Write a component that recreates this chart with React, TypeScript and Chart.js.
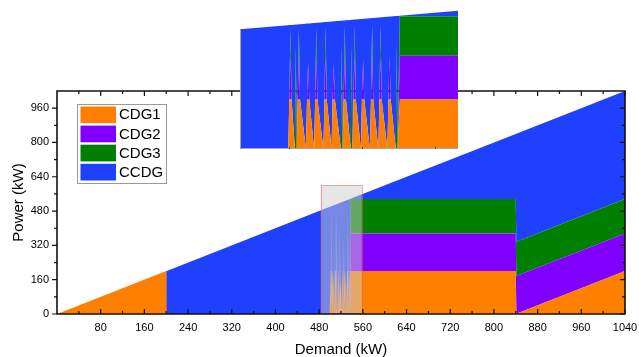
import React, { useEffect, useRef } from 'react';
import { Chart, registerables } from 'chart.js';

Chart.register(...registerables);

// ---- data (kW) ----
const demand = [
  0, 200, 201,
  499.6, 499.95, 500.35, 500.75,
  501.9, 502.2, 502.5, 502.85, 503.25, 503.65,
  505.7, 506.05, 506.45, 506.85,
  508.5, 508.85, 509.25, 509.65,
  511.7, 512.05, 512.45, 512.85,
  514.5, 514.85, 515.25, 515.65,
  517.7, 518.0, 518.3, 518.65, 519.05, 519.45,
  521.1, 521.4, 521.7, 522.05, 522.45, 522.85,
  524.6, 524.95, 525.35, 525.75,
  527.7, 528.05, 528.45, 528.85,
  530.6, 530.95, 531.35, 531.75,
  533.7, 534.05, 534.45, 534.85,
  536.6, 536.9, 537.2, 538.0, 840, 841, 1040,
];
const cdg1 = [
  0, 200, 0,
  0, 200, 200, 200,
  0, 0, 0, 200, 200, 200,
  0, 200, 200, 200,
  0, 200, 200, 200,
  0, 200, 200, 200,
  0, 200, 200, 200,
  0, 0, 0, 200, 200, 200,
  0, 0, 0, 200, 200, 200,
  0, 200, 200, 200,
  0, 200, 200, 200,
  0, 200, 200, 200,
  0, 200, 200, 200,
  0, 0, 0, 200, 200, 1, 200,
];
const cdg2 = [
  0, 0, 0,
  0, 0, 176, 0,
  0, 0, 0, 0, 176, 0,
  0, 0, 150, 0,
  0, 0, 176, 0,
  0, 0, 176, 0,
  0, 0, 140, 0,
  0, 0, 0, 0, 176, 0,
  0, 0, 0, 0, 176, 0,
  0, 0, 160, 0,
  0, 0, 176, 0,
  0, 0, 176, 0,
  0, 0, 176, 0,
  0, 0, 0, 176, 176, 176, 176,
];
const cdg3 = [
  0, 0, 0,
  0, 0, 110, 0,
  0, 420, 0, 0, 112, 0,
  0, 0, 0, 0,
  0, 0, 115, 0,
  0, 0, 118, 0,
  0, 0, 0, 0,
  0, 420, 0, 0, 120, 0,
  0, 420, 0, 0, 122, 0,
  0, 0, 0, 0,
  0, 0, 125, 0,
  0, 0, 126, 0,
  0, 0, 0, 0,
  0, 420, 0, 160, 160, 160, 160,
];
const ccdg = [
  0, 0, 201,
  499.6, 299.95, 14.35, 300.75,
  501.9, 82.2, 502.5, 302.85, 15.25, 303.65,
  505.7, 306.05, 156.45, 306.85,
  508.5, 308.85, 18.25, 309.65,
  511.7, 312.05, 18.45, 312.85,
  514.5, 314.85, 175.25, 315.65,
  517.7, 98.0, 518.3, 318.65, 23.05, 319.45,
  521.1, 101.4, 521.7, 322.05, 24.45, 322.85,
  524.6, 324.95, 165.35, 325.75,
  527.7, 328.05, 27.45, 328.85,
  530.6, 330.95, 29.35, 331.75,
  533.7, 334.05, 158.45, 334.85,
  536.6, 116.9, 537.2, 2.0, 304, 504, 504,
];

const seriesNames = ['CDG1', 'CDG2', 'CDG3', 'CCDG'];
const seriesValues = [cdg1, cdg2, cdg3, ccdg];
const seriesColors = ['#FF8000', '#8000FF', '#008000', '#1F40FF'];

const xTicks = [80, 160, 240, 320, 400, 480, 560, 640, 720, 800, 880, 960, 1040];
const xMinorTicks = [40, 120, 200, 280, 360, 440, 520, 600, 680, 760, 840, 920, 1000];
const yTicks = [0, 160, 320, 480, 640, 800, 960];
const yMinorTicks = [80, 240, 400, 560, 720, 880];

const xTitle = 'Demand (kW)';
const yTitle = 'Power (kW)';

// zoom window (shaded in main plot, enlarged in the inset)
const zoomX = [483, 558];
const zoomY = [0, 600];
const insetYMax = 565;
const insetTicks = [500, 525, 550];

const FONT = 'Arial, "Liberation Sans", sans-serif';

function makeDatasets() {
  return seriesNames.map((name, i) => ({
    label: name,
    data: demand.map((d, j) => ({ x: d, y: seriesValues[i][j] })),
    backgroundColor: seriesColors[i],
    borderColor: seriesColors[i],
    borderWidth: 0,
    pointRadius: 0,
    fill: i === 0 ? 'origin' : '-1',
    tension: 0,
  }));
}

const mainDecor = {
  id: 'mainDecor',
  afterDatasetsDraw(chart: any) {
    const { ctx, chartArea: a, scales } = chart;
    const x = scales.x;
    const y = scales.y;
    ctx.save();
    // zoom window overlay
    const bx0 = x.getPixelForValue(zoomX[0]);
    const bx1 = x.getPixelForValue(zoomX[1]);
    const by0 = y.getPixelForValue(zoomY[0]);
    const by1 = y.getPixelForValue(zoomY[1]);
    ctx.fillStyle = 'rgba(205,205,205,0.5)';
    ctx.fillRect(bx0, by1, bx1 - bx0, by0 - by1);
    ctx.strokeStyle = 'rgba(240,90,90,0.55)';
    ctx.lineWidth = 1;
    ctx.strokeRect(Math.round(bx0) + 0.5, Math.round(by1) + 0.5, Math.round(bx1 - bx0), Math.round(by0 - by1) - 1);

    // frame
    ctx.strokeStyle = '#111';
    ctx.lineWidth = 1.6;
    ctx.beginPath();
    ctx.rect(a.left, a.top, a.right - a.left, a.bottom - a.top);
    ctx.stroke();

    // ticks
    ctx.lineWidth = 1.2;
    ctx.beginPath();
    const tickY = (v: number, len: number) => {
      const py = y.getPixelForValue(v);
      ctx.moveTo(a.left, py); ctx.lineTo(a.left - len, py); // outward left
      ctx.moveTo(a.right, py); ctx.lineTo(a.right - len, py); // inward right
    };
    const tickX = (v: number, len: number) => {
      const px = x.getPixelForValue(v);
      ctx.moveTo(px, a.bottom); ctx.lineTo(px, a.bottom - len); // inward bottom
      ctx.moveTo(px, a.top); ctx.lineTo(px, a.top + len); // inward top
    };
    yTicks.forEach((v) => tickY(v, 5));
    yMinorTicks.forEach((v) => tickY(v, 3));
    xTicks.forEach((v) => tickX(v, 5));
    xMinorTicks.forEach((v) => tickX(v, 3));
    ctx.stroke();

    // axis titles
    ctx.fillStyle = '#000';
    ctx.font = `15px ${FONT}`;
    ctx.textAlign = 'center';
    ctx.textBaseline = 'middle';
    ctx.fillText(xTitle, (a.left + a.right) / 2, 350);
    ctx.save();
    ctx.translate(19, (a.top + a.bottom) / 2);
    ctx.rotate(-Math.PI / 2);
    ctx.fillText(yTitle, 0, 0);
    ctx.restore();

    // legend
    const lx = 77.5, ly = 104.5, lw = 89, lh = 79;
    ctx.fillStyle = '#fff';
    ctx.fillRect(lx, ly, lw, lh);
    ctx.strokeStyle = '#9a9a9a';
    ctx.lineWidth = 1;
    ctx.strokeRect(lx, ly, lw, lh);
    ctx.textAlign = 'left';
    ctx.font = `15px ${FONT}`;
    seriesNames.forEach((name, i) => {
      const sy = 106.5 + i * 19.1;
      ctx.fillStyle = seriesColors[i];
      ctx.fillRect(80.5, sy, 35.5, 16.7);
      ctx.fillStyle = '#000';
      ctx.fillText(name, 119, sy + 8.8);
    });
    ctx.restore();
  },
};

const insetDecor = {
  id: 'insetDecor',
  afterDatasetsDraw(chart: any) {
    const { ctx, chartArea: a, scales } = chart;
    const x = scales.x;
    const y = scales.y;
    ctx.save();
    ctx.strokeStyle = '#a8a8a8';
    ctx.lineWidth = 1;
    ctx.beginPath();
    ctx.moveTo(a.left + 0.5, y.getPixelForValue(zoomX[0]));
    ctx.lineTo(a.left + 0.5, a.bottom - 0.5);
    ctx.lineTo(a.right, a.bottom - 0.5);
    ctx.stroke();
    ctx.strokeStyle = '#444';
    ctx.beginPath();
    insetTicks.forEach((v) => {
      const px = Math.round(x.getPixelForValue(v)) + 0.5;
      ctx.moveTo(px, a.bottom);
      ctx.lineTo(px, a.bottom - 2);
    });
    ctx.stroke();
    ctx.restore();
  },
};

export default function App() {
  const mainRef = useRef<HTMLCanvasElement>(null);
  const insetRef = useRef<HTMLCanvasElement>(null);

  useEffect(() => {
    const tickFont = { family: FONT, size: 11 };
    const fmt = (v: any) => String(v);
    const main = new Chart(mainRef.current as HTMLCanvasElement, {
      type: 'line',
      data: { datasets: makeDatasets() as any },
      options: {
        animation: false,
        responsive: false,
        devicePixelRatio: 1,
        events: [],
        layout: { padding: { left: 0, right: 14, top: 91, bottom: 0 } },
        plugins: { legend: { display: false }, tooltip: { enabled: false } },
        scales: {
          x: {
            type: 'linear',
            min: 0,
            max: 1040,
            grid: { display: false, drawTicks: false },
            border: { display: false },
            afterBuildTicks: (s: any) => { s.ticks = xTicks.map((v) => ({ value: v })); },
            ticks: { font: tickFont, color: '#000', padding: 7, maxRotation: 0, autoSkip: false, callback: fmt },
            afterFit: (s: any) => { s.height = 43; s.paddingLeft = 0; s.paddingRight = 0; },
          },
          y: {
            type: 'linear',
            min: 0,
            max: 1040,
            stacked: true,
            grid: { display: false, drawTicks: false },
            border: { display: false },
            afterBuildTicks: (s: any) => { s.ticks = yTicks.map((v) => ({ value: v })); },
            ticks: { font: tickFont, color: '#000', padding: 8, autoSkip: false, callback: fmt },
            afterFit: (s: any) => { s.width = 57; s.paddingTop = 0; s.paddingBottom = 0; },
          },
        },
      } as any,
      plugins: [mainDecor],
    });

    const inset = new Chart(insetRef.current as HTMLCanvasElement, {
      type: 'line',
      data: { datasets: makeDatasets() as any },
      options: {
        animation: false,
        responsive: false,
        devicePixelRatio: 1,
        events: [],
        layout: { padding: 0 },
        plugins: { legend: { display: false }, tooltip: { enabled: false } },
        scales: {
          x: { type: 'linear', min: zoomX[0], max: zoomX[1], display: false },
          y: { type: 'linear', min: 0, max: insetYMax, stacked: true, display: false },
        },
      } as any,
      plugins: [insetDecor],
    });

    return () => {
      main.destroy();
      inset.destroy();
    };
  }, []);

  return (
    <div style={{ position: 'absolute', left: 0, top: 0, width: 639, height: 357, background: '#fff', overflow: 'hidden' }}>
      <canvas ref={mainRef} width={639} height={357} style={{ position: 'absolute', left: 0, top: 0, width: 639, height: 357 }} />
      <canvas ref={insetRef} width={218} height={140} style={{ position: 'absolute', left: 240, top: 9, width: 218, height: 140 }} />
    </div>
  );
}
